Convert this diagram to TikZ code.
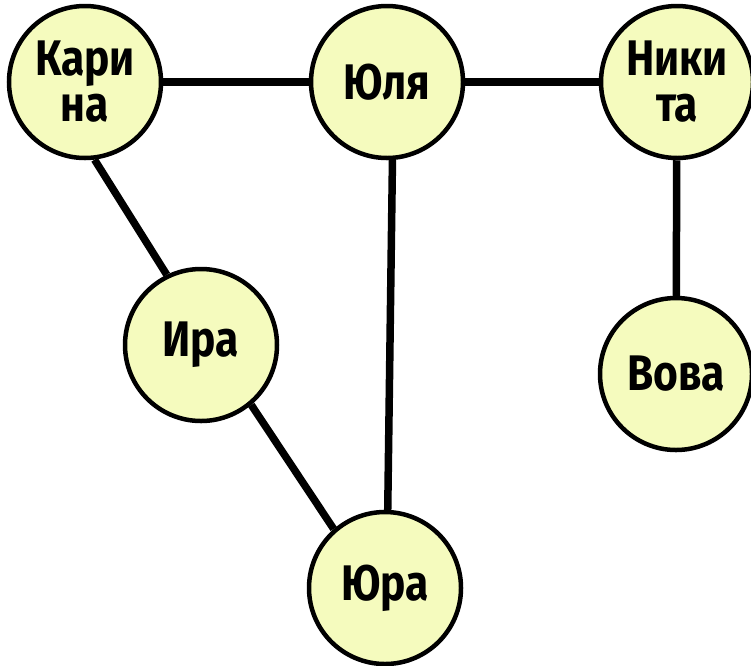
\documentclass[tikz,border=0pt]{standalone}
\usepackage{fontspec}
\setmainfont{Fira Sans}[FakeStretch=0.85]
\definecolor{nodefill}{RGB}{245,251,190}
\tikzset{
  person/.style={circle, draw=black, line width=4.5pt, fill=nodefill,
    minimum size=152pt, inner sep=0pt, align=center,
    font=\fontsize{50}{46}\selectfont\bfseries},
  link/.style={line width=7.5pt, black}
}
\begin{document}
\begin{tikzpicture}[x=1pt,y=-1pt]
\useasboundingbox (0,0) rectangle (751,665);
\node[person] (ka) at (85,82) {Кари\\на};
\node[person] (ul) at (387,82) {Юля};
\node[person] (ni) at (677,82) {Ники\\та};
\node[person] (ir) at (201,345) {Ира};
\node[person] (vo) at (676,374) {Вова};
\node[person] (ur) at (385,588) {Юра};
\draw[link] (ka) -- (ul);
\draw[link] (ul) -- (ni);
\draw[link] (ka.-83) -- (ir.116);
\draw[link] (ir.-50) -- (ur.131);
\draw[link] (ul.-86) -- (ur.88);
\draw[link] (ni) -- (vo);
\end{tikzpicture}
\end{document}
